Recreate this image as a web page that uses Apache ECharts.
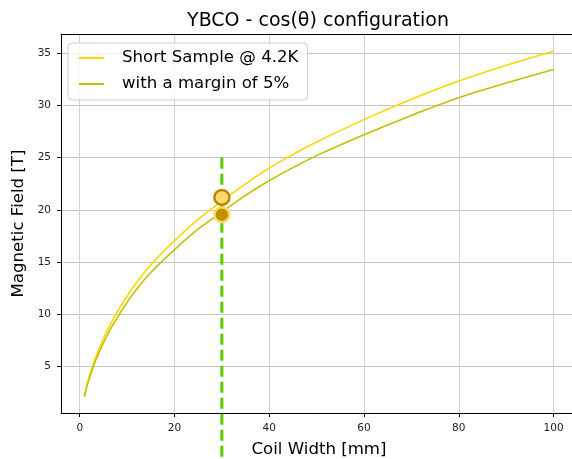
<!DOCTYPE html>
<html>
<head>
<meta charset="utf-8">
<script src="https://cdn.jsdelivr.net/npm/echarts@6/dist/echarts.min.js"></script>
<style>
  html, body { margin: 0; padding: 0; background: #fff; }
  #chart { width: 572px; height: 459px; }
</style>
</head>
<body>
<div id="chart"></div>
<script>
// Coil width [mm] sample positions
const coilWidth = [1, 1.5, 2, 3, 4, 5, 7, 10, 12, 15, 20, 25, 30, 35, 40, 45, 50, 60, 70, 80, 90, 100];
// Short-sample field at 4.2 K [T]
const shortSample = [2.2, 3.2, 4.0, 5.4, 6.6, 7.65, 9.5, 11.75, 13.05, 14.75, 17.05, 19.1, 20.85, 22.5, 24.0, 25.3, 26.5, 28.65, 30.6, 32.35, 33.85, 35.2];
// Field with a 5% margin [T]
const withMargin = [2.1, 3.05, 3.8, 5.15, 6.25, 7.25, 9.0, 11.15, 12.4, 14.0, 16.2, 18.15, 19.8, 21.4, 22.8, 24.05, 25.2, 27.2, 29.05, 30.75, 32.15, 33.45];
// Operating point at the chosen coil width
const chosenWidth = 30;
const pointShort = 21.2;
const pointMargin = 19.55;
// Vertical marker span [T]
const markerSpan = [25, -6];

const seriesNames = ['Short Sample @ 4.2K', 'with a margin of 5%'];
const font = 'DejaVu Sans';

const pairs = (xs, ys) => xs.map((x, i) => [x, ys[i]]);

const chart = echarts.init(document.getElementById('chart'));
chart.setOption({
  animation: false,
  backgroundColor: '#ffffff',
  title: {
    text: 'YBCO - cos(θ) configuration',
    left: 313,
    top: 7,
    textAlign: 'center',
    textStyle: { fontFamily: font, fontSize: 19, fontWeight: 'normal', color: '#000' }
  },
  legend: {
    data: seriesNames,
    orient: 'vertical',
    left: 68,
    top: 43,
    padding: [5, 9, 6, 11],
    itemGap: 6,
    itemWidth: 25,
    itemHeight: 2,
    icon: 'rect',
    backgroundColor: 'rgba(255,255,255,0.8)',
    borderColor: '#cccccc',
    borderWidth: 1,
    borderRadius: 4,
    textStyle: { fontFamily: font, fontSize: 16.6, lineHeight: 20, color: '#000', padding: [0, 0, 0, 13] }
  },
  grid: { left: 61, top: 34, right: -5, bottom: 46, containLabel: false, outerBoundsMode: 'none' },
  xAxis: [{
    type: 'value',
    min: -3.95,
    max: 104.95,
    splitNumber: 5,
    name: 'Coil Width [mm]',
    nameLocation: 'middle',
    nameGap: 28,
    nameTextStyle: { fontFamily: font, fontSize: 16.6, color: '#000' },
    axisLine: { onZero: false, lineStyle: { color: '#000', width: 1 } },
    axisTick: { show: true, length: 4, lineStyle: { color: '#000' } },
    axisLabel: {
      showMinLabel: false, showMaxLabel: false, margin: 10,
      fontFamily: font, fontSize: 10.5, color: '#222',
      formatter: v => (Math.abs(v % 20) < 1e-9 ? String(v) : '')
    },
    splitLine: { show: true, lineStyle: { color: '#d0d0d0', width: 1 } }
  }, {
    type: 'value',
    position: 'top',
    min: -3.95,
    max: 104.95,
    axisLine: { show: true, onZero: false, lineStyle: { color: '#000', width: 1 } },
    axisTick: { show: false },
    axisLabel: { show: false },
    splitLine: { show: false }
  }],
  yAxis: {
    type: 'value',
    min: 0.55,
    max: 36.85,
    splitNumber: 7,
    name: 'Magnetic Field [T]',
    nameLocation: 'middle',
    nameGap: 27,
    nameTextStyle: { fontFamily: font, fontSize: 16.6, color: '#000' },
    axisLine: { show: true, onZero: false, lineStyle: { color: '#000', width: 1 } },
    axisTick: { show: true, length: 4, lineStyle: { color: '#000' } },
    axisLabel: {
      showMinLabel: false, showMaxLabel: false, margin: 10,
      fontFamily: font, fontSize: 10.5, color: '#222',
      formatter: v => (Math.abs(v % 5) < 1e-9 ? String(v) : '')
    },
    splitLine: { show: true, lineStyle: { color: '#c4c4c4', width: 1 } }
  },
  series: [
    {
      name: seriesNames[0],
      type: 'line',
      data: pairs(coilWidth, shortSample),
      smooth: 0.4,
      showSymbol: false,
      symbol: 'none',
      lineStyle: { color: '#ffd700', width: 1.6 },
      itemStyle: { color: '#ffd700' },
      z: 3
    },
    {
      name: seriesNames[1],
      type: 'line',
      data: pairs(coilWidth, withMargin),
      smooth: 0.4,
      showSymbol: false,
      symbol: 'none',
      lineStyle: { color: '#c2c000', width: 1.6 },
      itemStyle: { color: '#c2c000' },
      z: 3
    },
    {
      name: 'chosen width',
      type: 'line',
      data: markerSpan.map(v => [chosenWidth, v]),
      clip: false,
      symbol: 'none',
      lineStyle: { color: '#55cc00', width: 3, type: [11, 5] },
      z: 4
    },
    {
      name: 'margin point',
      type: 'scatter',
      data: [[chosenWidth, pointMargin]],
      symbolSize: 15,
      itemStyle: { color: '#c09000', borderColor: '#ffd966', borderWidth: 2.5, opacity: 1 },
      z: 5
    },
    {
      name: 'short sample point',
      type: 'scatter',
      data: [[chosenWidth, pointShort]],
      symbolSize: 15,
      itemStyle: { color: '#ffd966', borderColor: '#b8860b', borderWidth: 2.5, opacity: 1 },
      z: 6
    }
  ]
});
</script>
</body>
</html>
